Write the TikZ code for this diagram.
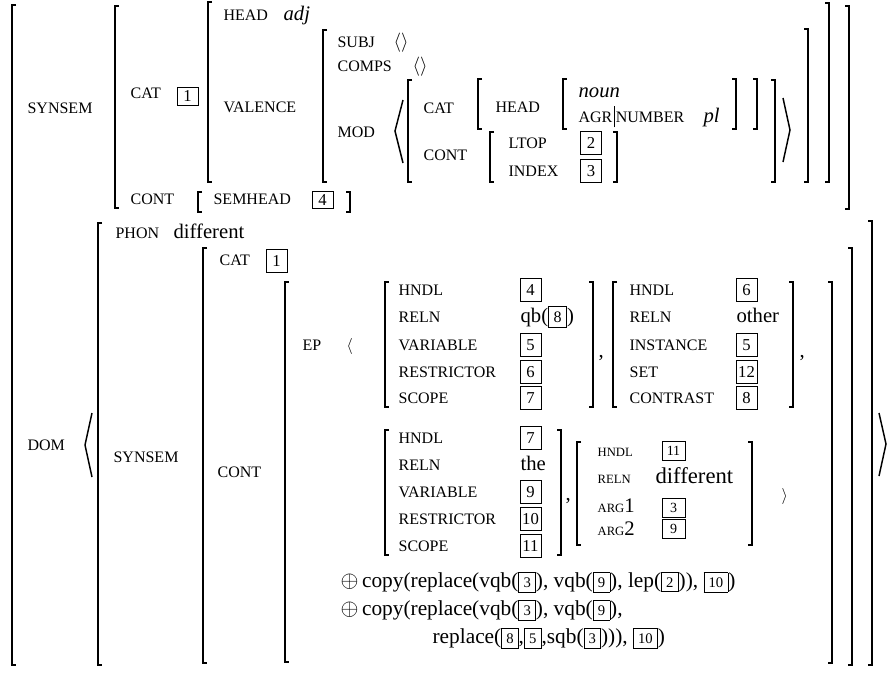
\documentclass[tikz,border=0pt]{standalone}
\usepackage{fontspec}
\setmainfont{Liberation Serif}
\usetikzlibrary{positioning}

\newcommand{\intag}[2][11]{{\fontsize{#1}{#1}\selectfont\setlength{\fboxsep}{0.3em}\setlength{\fboxrule}{0.5pt}\fbox{#2}}}

\begin{document}
\begin{tikzpicture}[x=0.75pt,y=-0.75pt,line width=0.9pt]

	\tikzset{attr st/.style={anchor=base west, inner sep=0pt,
			font=\fontsize{12}{12}\selectfont},
		small st/.style={attr st, font=\fontsize{9.5}{10}\selectfont},
		val st/.style={anchor=base west, inner sep=0pt,
			font=\fontsize{15.5}{16}\selectfont},
		val it/.style={val st, font=\fontsize{15.5}{16}\selectfont\itshape},
		copy st/.style={val st, font=\fontsize{16}{17}\selectfont},
		tag st/.style={draw, line width=0.5pt, inner sep=0pt,
			minimum width=15.75pt, minimum height=17.5pt,
			font=\fontsize{12.5}{13}\selectfont},
		small tag/.style={tag st, minimum width=17pt, minimum height=14pt,
			font=\fontsize{10.5}{11}\selectfont},
		brk/.style={line width=0.9pt},
		ang/.style={line width=1.1pt}}

	\useasboundingbox (0,0) rectangle (896,672);

	% upper half: SYNSEM
	\node[attr st] (synsemA) at (27,113) {SYNSEM};
	\node[attr st] (catA) at (130,98) {CAT};
	\node[tag st, minimum height=13.5pt] (tagA1) at (187.5,96) {1};
	\node[attr st] (headA) at (223,20) {HEAD};
	\node[val it] (adj) at (283,20) {adj};
	\node[attr st] (valence) at (223,112) {VALENCE};
	\node[attr st] (subj) at (337,47) {SUBJ};
	\node[val st] (subjv) at (393,47) {$\langle\rangle$};
	\node[attr st] (comps) at (337,71) {COMPS};
	\node[val st] (compsv) at (412,71) {$\langle\rangle$};
	\node[attr st] (mod) at (337,137) {MOD};
	\node[attr st] (catB) at (423,113) {CAT};
	\node[attr st] (contB) at (423,160) {CONT};
	\node[attr st] (headB) at (495,112) {HEAD};
	\node[val it] (noun) at (578,97) {noun};
	\node[attr st] (agr) at (578,122) {AGR\kern1pt\rule[-4pt]{0.6pt}{16pt}\kern1pt NUMBER};
	\node[val it] (pl) at (703,122) {pl};
	\node[attr st] (ltop) at (508,148) {LTOP};
	\node[tag st] (tagB2) at (591,143) {2};
	\node[attr st] (index) at (508,176) {INDEX};
	\node[tag st] (tagB3) at (591,171) {3};
	\node[attr st] (contA) at (130,204) {CONT};
	\node[attr st] (semhead) at (213,204) {SEMHEAD};
	\node[tag st, minimum height=12.75pt] (tagA4) at (322.5,200) {4};

	% lower half: DOM
	\node[attr st] (dom) at (27,450) {DOM};
	\node[attr st] (phon) at (115,238) {PHON};
	\node[val st] (phonv) at (173,238) {different};
	\node[attr st] (synsemB) at (113,462) {SYNSEM};
	\node[attr st] (catC) at (219,265) {CAT};
	\node[tag st] (tagC1) at (276.5,260.5) {1};
	\node[attr st] (contC) at (217,477) {CONT};
	\node[attr st] (ep) at (302,350) {EP};
	\node[attr st] (epopen) at (346,350) {$\langle$};

	% EP: quantifier
	\node[attr st] (hndlA) at (398,295) {HNDL};
	\node[tag st] (tagD4) at (530.5,290) {4};
	\node[attr st] (relnA) at (398,322) {RELN};
	\node[val st] (qb) at (520,322) {qb(\intag[12]{8})};
	\node[attr st] (varA) at (398,350) {VARIABLE};
	\node[tag st] (tagD5) at (530.5,345) {5};
	\node[attr st] (restrA) at (398,377) {RESTRICTOR};
	\node[tag st] (tagD6) at (530.5,372) {6};
	\node[attr st] (scopeA) at (398,403) {SCOPE};
	\node[tag st] (tagD7) at (530.5,398) {7};
	\node[val st] (commaA) at (598,357) {,};

	% EP: other
	\node[attr st] (hndlB) at (629,295) {HNDL};
	\node[tag st] (tagE6) at (746.5,290) {6};
	\node[attr st] (relnB) at (629,322) {RELN};
	\node[val st] (other) at (736,322) {other};
	\node[attr st] (instB) at (629,350) {INSTANCE};
	\node[tag st] (tagE5) at (746.5,345) {5};
	\node[attr st] (setB) at (629,377) {SET};
	\node[tag st] (tagE12) at (746.5,372) {12};
	\node[attr st] (contrB) at (629,403) {CONTRAST};
	\node[tag st] (tagE8) at (746.5,398) {8};
	\node[val st] (commaB) at (799,357) {,};

	% EP: the
	\node[attr st] (hndlC) at (398,443) {HNDL};
	\node[tag st] (tagF7) at (530.5,438) {7};
	\node[attr st] (relnC) at (398,470) {RELN};
	\node[val st] (the) at (520,470) {the};
	\node[attr st] (varC) at (398,497) {VARIABLE};
	\node[tag st] (tagF9) at (530.5,492) {9};
	\node[attr st] (restrC) at (398,524) {RESTRICTOR};
	\node[tag st] (tagF10) at (530.5,519) {10};
	\node[attr st] (scopeC) at (398,551) {SCOPE};
	\node[tag st] (tagF11) at (530.5,546) {11};
	\node[val st] (commaC) at (565,500) {,};

	% EP: different
	\node[small st] (hndlD) at (597,456) {HNDL};
	\node[small tag] (tagG11) at (673.5,451) {11};
	\node[small st] (relnD) at (597,483) {RELN};
	\node[val st, font=\fontsize{17}{18}\selectfont] (diff) at (655,483) {different};
	\node[small st] (arg1) at (597,512) {ARG{\fontsize{15.5}{16}\selectfont 1}};
	\node[small tag] (tagG3) at (673.5,508) {3};
	\node[small st] (arg2) at (597,535) {ARG{\fontsize{15.5}{16}\selectfont 2}};
	\node[small tag] (tagG9) at (673.5,529) {9};
	\node[attr st] (epclose) at (781,500) {$\rangle$};

	% appended copies
	\node[copy st] (copyA) at (340,587) {$\oplus$\,copy(replace(vqb(\intag{3}), vqb(\intag{9}), lep(\intag{2})), \intag{10})};
	\node[copy st] (copyB) at (340,615) {$\oplus$\,copy(replace(vqb(\intag{3}), vqb(\intag{9}),};
	\node[copy st] (copyC) at (432,643) {replace(\intag{8},\intag{5},sqb(\intag{3}))), \intag{10})};

	% left brackets
	\draw[brk] (16,5) -- (12,5) -- (12,665) -- (16,665);
	\draw[brk] (119,6) -- (115,6) -- (115,208) -- (119,208);
	\draw[brk] (212,2) -- (208,2) -- (208,182) -- (212,182);
	\draw[brk] (327,30) -- (323,30) -- (323,182) -- (327,182);
	\draw[brk] (412,80) -- (408,80) -- (408,182) -- (412,182);
	\draw[brk] (482,79) -- (478,79) -- (478,129) -- (482,129);
	\draw[brk] (567,79) -- (563,79) -- (563,129) -- (567,129);
	\draw[brk] (494,132) -- (490,132) -- (490,182) -- (494,182);
	\draw[brk] (202,192) -- (198,192) -- (198,212) -- (202,212);
	\draw[brk] (102,223) -- (98,223) -- (98,665) -- (102,665);
	\draw[brk] (207,248) -- (203,248) -- (203,663) -- (207,663);
	\draw[brk] (289,282) -- (285,282) -- (285,662) -- (289,662);
	\draw[brk] (389,282) -- (385,282) -- (385,407) -- (389,407);
	\draw[brk] (617,282) -- (613,282) -- (613,407) -- (617,407);
	\draw[brk] (389,430) -- (385,430) -- (385,555) -- (389,555);
	\draw[brk] (581,442) -- (577,442) -- (577,545) -- (581,545);

	% right brackets
	\draw[brk] (845,6) -- (849,6) -- (849,209) -- (845,209);
	\draw[brk] (825,3) -- (829,3) -- (829,182) -- (825,182);
	\draw[brk] (804,29) -- (808,29) -- (808,182) -- (804,182);
	\draw[brk] (771,80) -- (775,80) -- (775,182) -- (771,182);
	\draw[brk] (753,79) -- (757,79) -- (757,129) -- (753,129);
	\draw[brk] (732,79) -- (736,79) -- (736,129) -- (732,129);
	\draw[brk] (613,132) -- (617,132) -- (617,182) -- (613,182);
	\draw[brk] (346,192) -- (350,192) -- (350,212) -- (346,212);
	\draw[brk] (868,221) -- (872,221) -- (872,665) -- (868,665);
	\draw[brk] (848,248) -- (852,248) -- (852,665) -- (848,665);
	\draw[brk] (828,282) -- (832,282) -- (832,663) -- (828,663);
	\draw[brk] (589,282) -- (593,282) -- (593,407) -- (589,407);
	\draw[brk] (789,282) -- (793,282) -- (793,407) -- (789,407);
	\draw[brk] (557,430) -- (561,430) -- (561,555) -- (557,555);
	\draw[brk] (748,442) -- (752,442) -- (752,545) -- (748,545);

	% list angles
	\draw[ang] (403,100) -- (395,131) -- (403,163);
	\draw[ang] (783,98) -- (790,130) -- (783,162);
	\draw[ang] (92,413) -- (85,445) -- (92,477);
	\draw[ang] (879,413) -- (886,444) -- (879,476);

\end{tikzpicture}
\end{document}
